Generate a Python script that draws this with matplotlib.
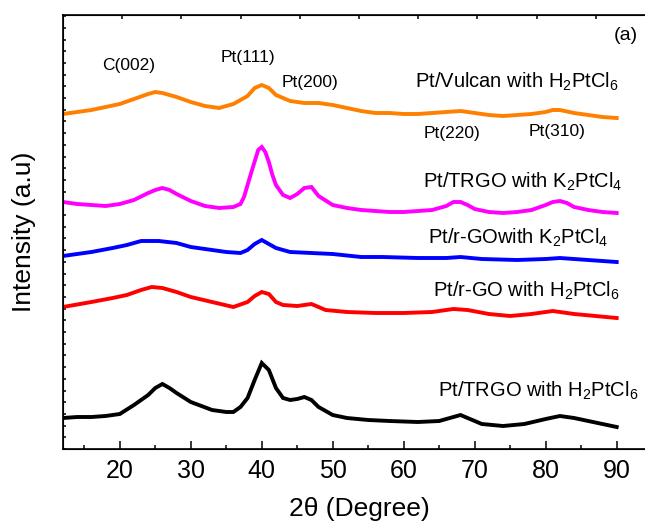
import numpy as np
import matplotlib
matplotlib.use('Agg')
import matplotlib.pyplot as plt
from matplotlib.ticker import MultipleLocator

plt.rcParams['font.family'] = ['Liberation Sans', 'DejaVu Sans']
plt.rcParams['mathtext.fontset'] = 'custom'
plt.rcParams['mathtext.rm'] = 'Liberation Sans'
plt.rcParams['mathtext.it'] = 'Liberation Sans:italic'

# XRD traces (2theta in degrees, intensity in a.u. with offsets)
x_vulcan = [12, 14, 16, 18, 20, 22, 24, 25, 26, 28, 30, 32, 34, 36, 38, 39, 40, 41, 42, 44,
            46, 48, 50, 52, 54, 56, 58, 60, 62, 64, 66, 68, 70, 72, 74, 76, 78, 80, 81, 82,
            84, 86, 88, 90]
y_vulcan = [335, 337, 339, 342, 345, 350, 355, 357, 356, 352, 347, 343, 341, 345, 353, 361, 364, 361, 354, 348,
            346, 346, 344, 341, 338, 336, 336, 335, 335, 336, 337, 338, 336, 334, 333, 334, 335, 337, 339, 339,
            336, 334, 332, 331]

x_trgo_k = [12, 14, 16, 18, 20, 22, 24, 25, 26, 27, 28, 30, 32, 34, 36, 37, 37.5, 38.5, 39.5, 40,
            40.5, 41, 41.5, 42, 43, 44, 45, 46, 47, 48, 50, 52, 54, 56, 58, 60, 62, 64, 66, 67,
            68, 69, 70, 72, 74, 76, 78, 80, 81, 82, 83, 84, 86, 88, 90]
y_trgo_k = [247, 245, 244, 243, 245, 249, 256, 259, 261, 259, 255, 248, 243, 241, 242, 245, 252, 276, 299, 302,
            297, 287, 274, 264, 254, 251, 255, 261, 262, 253, 244, 241, 239, 238, 237, 237, 238, 239, 243, 247,
            247, 244, 240, 237, 236, 237, 239, 244, 247, 248, 246, 242, 239, 237, 236]

x_rgo_k = [12, 16, 19, 21, 23, 25.5, 28, 30, 33, 35, 37, 38, 39, 40, 41, 42, 44, 47, 50, 54,
           57, 62, 66, 68, 71, 76, 80, 82, 86, 90]
y_rgo_k = [193, 197, 201, 204, 208, 208, 206, 202, 199, 197, 196, 199, 205, 209, 205, 201, 197, 196, 195, 192,
           192, 191, 191, 192, 190, 189, 190, 191, 189, 187]

x_rgo_h = [12, 16, 19, 21, 23, 24.5, 26, 28, 30, 33, 36, 38, 39, 40, 41, 42, 43, 45, 47, 49,
           52, 56, 60, 64, 67, 69, 72, 75, 78, 81, 84, 87, 90]
y_rgo_h = [142, 147, 151, 154, 159, 162, 161, 157, 152, 147, 142, 147, 153, 157, 155, 147, 144, 143, 145, 139,
           137, 136, 136, 137, 140, 139, 135, 133, 135, 138, 135, 133, 131]

x_trgo_h = [12, 14, 16, 18, 20, 22, 24, 25, 26, 27, 28, 30, 33, 35, 36, 37, 38, 39, 40, 41,
            42, 43, 44, 45, 46, 47, 48, 50, 52, 55, 58, 62, 65, 67, 68, 69, 71, 74, 77, 80,
            82, 84, 86, 88, 90]
y_trgo_h = [31, 32, 32, 33, 35, 44, 54, 61, 65, 61, 56, 47, 39, 37, 37, 42, 51, 69, 86, 79,
            61, 51, 49, 50, 52, 49, 42, 34, 31, 29, 28, 27, 28, 32, 34, 31, 25, 23, 25, 30,
            33, 31, 28, 25, 22]

series = [
    (x_vulcan, y_vulcan, '#FF8000'),
    (x_trgo_k, y_trgo_k, '#FF00FF'),
    (x_rgo_k, y_rgo_k, '#0000FF'),
    (x_rgo_h, y_rgo_h, '#FF0000'),
    (x_trgo_h, y_trgo_h, 'black'),
]

sample_labels = ['Pt/Vulcan with H$_2$PtCl$_6$', 'Pt/TRGO with K$_2$PtCl$_4$',
                 'Pt/r-GOwith K$_2$PtCl$_4$', 'Pt/r-GO with H$_2$PtCl$_6$',
                 'Pt/TRGO with H$_2$PtCl$_6$']
sample_label_pos = [(61.6, 361), (62.7, 261), (63.4, 205), (64.1, 152), (64.8, 52)]

peak_labels = ['C(002)', 'Pt(111)', 'Pt(200)', 'Pt(220)', 'Pt(310)']
peak_label_pos = [(21.2, 384), (38.1, 392), (46.8, 367), (66.8, 316), (81.6, 318)]

fig = plt.figure(figsize=(6.45, 5.27), dpi=100)
ax = fig.add_axes([63/645, 78/527, 592/645, 434/527])

for xs, ys, c in series:
    ax.plot(xs, ys, color=c, lw=2.8, solid_joinstyle='miter')

for txt, (tx, ty) in zip(sample_labels, sample_label_pos):
    ax.text(tx, ty, txt, fontsize=14.5, ha='left', va='baseline')

for txt, (tx, ty) in zip(peak_labels, peak_label_pos):
    ax.text(tx, ty, txt, fontsize=12.5, ha='center', va='center')

ax.text(0.951, 0.952, '(a)', transform=ax.transAxes, fontsize=14, ha='center', va='center')

ax.set_xlim(12, 95.4)
ax.set_ylim(0, 434)
ax.xaxis.set_major_locator(MultipleLocator(10))
ax.xaxis.set_minor_locator(MultipleLocator(5))
ax.yaxis.set_major_locator(MultipleLocator(11.7))
ax.set_yticklabels([])
ax.tick_params(axis='x', which='major', direction='in', length=6, width=1.1,
               labelsize=18, pad=7, top=False)
ax.tick_params(axis='x', which='minor', direction='in', length=3, width=1.1, top=False)
ax.tick_params(axis='y', which='major', direction='in', length=2.2, width=1.1, right=False)
for s in ax.spines.values():
    s.set_linewidth(1.2)

# top axis with its own ticks
ax2 = ax.twiny()
ax2.set_xlim(0, 1)
ax2.set_xticks(np.arange(0.1, 0.95, 0.1))
ax2.set_xticklabels([])
ax2.tick_params(axis='x', direction='in', length=3, width=1.1)

ax.set_xlabel('2θ (Degree)', fontsize=19, labelpad=10)
ax.set_ylabel('Intensity (a.u)', fontsize=19, labelpad=16)

plt.savefig('out.png', dpi=100)
